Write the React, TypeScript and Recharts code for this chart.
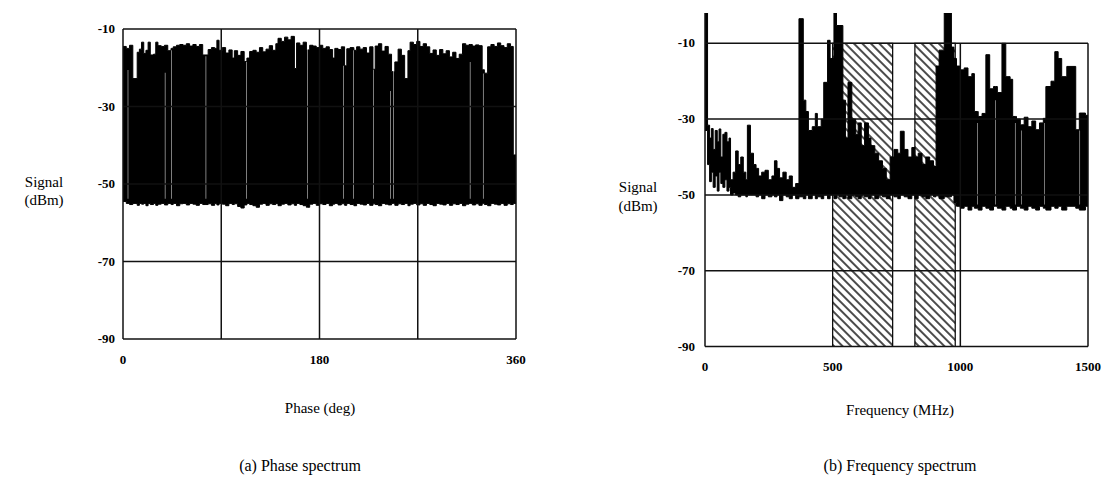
import React from 'react';
import { ComposedChart, Area, Bar, XAxis, YAxis, ReferenceLine, ReferenceArea } from 'recharts';

// (a) phase spectrum: step breakpoints (deg) with upper / lower envelope (dBm)
const phaseDeg = [0, 3, 6, 9, 13, 15, 17, 19, 21, 23, 25, 28, 30, 32, 35, 38, 41, 44, 46, 49, 52, 55, 58, 61, 64, 67, 70, 73, 78, 81, 84, 86, 88, 91, 94, 97, 100, 102, 105, 108, 111, 113.5, 116, 119, 122, 125, 128, 131, 134, 137, 140, 142, 145, 148, 151, 154, 157, 159, 162, 165, 168, 171, 174, 177, 180, 183, 186, 189, 192, 194, 197, 200, 203, 205, 208, 211.5, 214, 217, 220, 223, 226, 229, 231, 234, 237, 240, 243, 246, 249, 252, 255, 258, 261, 263, 266, 269, 272, 275, 278, 281, 284, 287, 290, 293, 296, 299, 302, 305, 308, 311, 314, 317, 320, 323, 326, 329, 331, 334, 337, 340, 343, 346, 349, 352, 355, 357.5, 360];
const phaseHi = [-14.5, -15, -14.2, -22.8, -16, -15.2, -13.4, -16.3, -15.5, -13.4, -16.7, -16.5, -13.4, -14.3, -14.5, -14.2, -15.6, -15, -14.6, -14.2, -14, -14.2, -13.8, -14.4, -14, -14.5, -14, -16.7, -15.3, -14.8, -15, -12.9, -15.5, -14.8, -16.2, -15.4, -17.5, -15.6, -16.8, -15.8, -18.4, -17.5, -15.8, -15.5, -16, -14.8, -15.9, -15.2, -14.3, -15.5, -13.8, -12.4, -13.2, -12.1, -12.8, -11.9, -20.2, -13.6, -14.2, -13.4, -15.4, -14.2, -14.4, -14.8, -14.2, -15, -14.6, -15.3, -17.5, -15, -15.3, -14.6, -19.5, -15.1, -14.8, -15.5, -14.6, -15.2, -14.8, -16.2, -14.6, -20.4, -14.4, -13.8, -15.7, -14.5, -16.5, -21, -18.5, -15.2, -16.8, -22.8, -15.6, -13.4, -14, -13.2, -14.5, -13.8, -14.6, -16.3, -15.4, -16.8, -15.3, -16.4, -15.6, -17.2, -16, -17.6, -16.5, -13.8, -14.2, -14, -14.4, -14.1, -14.3, -20.5, -21.4, -14.6, -14, -14.5, -13.6, -14.3, -14.8, -13.8, -14.5, -42.5, -42.5];
const phaseLo = [-54.5, -55, -55.3, -55, -55.5, -55, -55.2, -55, -55.6, -55, -55.3, -55, -55.5, -55.2, -55, -55.4, -55, -55.3, -55, -55.6, -55.1, -55, -55.4, -55, -55.2, -55.5, -55, -55.3, -55.1, -55.5, -55, -55.4, -55, -55.2, -55.6, -55, -55.3, -55.1, -55.8, -56.2, -55.4, -55, -55.3, -55.6, -56, -55.2, -55, -55.5, -55.1, -55.3, -55, -55.6, -55.2, -55, -55.4, -55.1, -55.5, -55, -55.3, -55.6, -56, -55.2, -55, -55.5, -55.1, -55.3, -55, -55.6, -55.2, -55, -55.4, -55.1, -55.5, -55, -55.3, -55.6, -55, -55.2, -55.4, -55, -55.5, -55.1, -55.3, -55.6, -55, -55.2, -55.4, -55, -55.5, -55.1, -55.3, -55, -55.6, -55.2, -55, -55.4, -55.1, -55.5, -55, -55.3, -55.6, -55, -55.2, -55.4, -55, -55.5, -55.1, -55.3, -55, -55.6, -55.2, -55, -55.4, -55.1, -55.5, -55, -55.3, -55.6, -55, -55.2, -55.4, -55, -55.5, -55.1, -55.3, -55, -55];
const phaseGapDeg = [4.6, 38.6, 44.6, 76, 113, 169, 202, 211, 229.5, 245, 248, 318, 330];
const phaseGapTop = [-20.6, -21.3, -15.5, -17, -18.5, -15, -19.5, -15.5, -20.5, -26, -20.5, -18.5, -21.5];
const phaseGapBottom = [-53.8, -53.8, -53.8, -53.8, -53.8, -53.8, -53.8, -53.8, -53.8, -53.8, -53.8, -53.8, -53.8];
const phaseTicks = [0, 180, 360];
const phaseGrid = [0, 90, 180, 270, 360];

// (b) frequency spectrum (MHz)
const freqMHz = [0, 10, 18, 25, 32, 40, 48, 55, 62, 70, 78, 86, 94, 100, 110, 120, 130, 140, 150, 160, 166, 178, 190, 200, 210, 222, 235, 248, 262, 272, 282, 292, 305, 318, 330, 342, 355, 368, 385, 395, 405, 420, 432, 440, 455, 465, 480, 490, 505, 515, 525, 540, 550, 560, 575, 590, 600, 612, 625, 640, 650, 665, 680, 695, 710, 725, 740, 755, 765, 780, 795, 810, 822, 835, 850, 865, 880, 895, 905, 917, 937, 965, 975, 985, 1000, 1015, 1030, 1045, 1055, 1070, 1085, 1100, 1115, 1130, 1145, 1163, 1178, 1195, 1205, 1220, 1235, 1250, 1265, 1280, 1295, 1310, 1325, 1335, 1355, 1370, 1383, 1397, 1417, 1452, 1466, 1490, 1500];
const freqHi = [-2, -31.6, -35, -32.5, -38, -33, -36, -32.6, -40, -34, -33.5, -36, -35, -46, -44, -38.4, -42, -40, -44, -46, -31.6, -39, -42, -43, -45, -44, -43.5, -46, -45, -41, -43, -45.5, -44, -46, -45, -48, -47, -3.5, -25, -28, -33, -32, -28.5, -32, -30, -20.3, -9.2, -14, -2, -5.3, -5.3, -25, -35, -20.3, -30, -34, -31, -37, -31, -35, -37, -39, -41, -43, -46, -40, -38, -39, -33.2, -38, -40, -37.5, -40, -39, -42, -40, -41, -42.5, -16, -11.8, -2, -11, -14, -16, -17, -16.5, -18.8, -18, -28, -29.3, -28.5, -13, -22, -21.4, -23, -10, -18.8, -19.5, -29.3, -30, -31.5, -29.5, -32, -30.5, -32.8, -31, -29.8, -21.4, -20, -12.2, -14, -18.8, -16.1, -32.8, -28.4, -29, -29];
const freqLo = [-33, -42, -46.5, -44, -48, -45, -49, -44, -47, -48, -46, -49, -48, -50, -49.5, -50, -50.5, -50, -50, -50.5, -50, -50, -50, -50.5, -50, -51, -50, -50.5, -50, -50.5, -50, -51.5, -50, -50.5, -51, -50, -51, -50.5, -51, -50, -51, -50, -51, -50.5, -51, -50, -51, -50, -51, -50, -50.5, -51, -50, -51, -50, -50.5, -51, -50, -50.5, -51, -50, -51, -50, -50.5, -51, -50, -50.5, -51, -50, -50.5, -51, -50, -51, -50, -50.5, -51, -50, -50.5, -50, -51, -50.5, -50, -52, -53, -53.5, -53, -54, -53, -53.5, -54, -53, -53.5, -54, -53, -53.5, -54, -53, -53.5, -54, -53, -53.5, -54, -53, -53.5, -54, -53, -53.5, -54, -53, -53.5, -53, -54, -53, -53.5, -54, -53, -53];
const freqGapMHz = [1067, 1138, 1215, 1240, 1330, 1468];
const freqGapTop = [-31, -25, -31, -33, -31, -33];
const freqGapBottom = [-52.5, -52.5, -52.5, -52.5, -52.5, -52.5];
const hatchBands = [[500, 735], [822, 980]];
const freqTicks = [0, 500, 1000, 1500];
const signalTicks = [-90, -70, -50, -30, -10];

function buildRows(xs: number[], his: number[], los: number[], gx: number[], gt: number[], gb: number[]) {
  const rows: any[] = xs.map((x, i) => ({ x, hi: his[i], lo: los[i], gap: null }));
  gx.forEach((g, j) => {
    let k = 0;
    while (k + 1 < xs.length && xs[k + 1] <= g) k++;
    rows.push({ x: g, hi: his[k], lo: los[k], gap: [gb[j], gt[j]] });
  });
  return rows.sort((a, b) => a.x - b.x);
}

const phaseRows = buildRows(phaseDeg, phaseHi, phaseLo, phaseGapDeg, phaseGapTop, phaseGapBottom);
const freqRows = buildRows(freqMHz, freqHi, freqLo, freqGapMHz, freqGapTop, freqGapBottom);

const grid = { stroke: '#111', strokeWidth: 1.5 };

// plain black serif tick labels
function XTick({ x, y, payload }: any) {
  return (
    <text x={x} y={y} dy={9} textAnchor="middle" fill="#000" fontSize={13} fontWeight={600} fontFamily="Liberation Serif">
      {payload.value}
    </text>
  );
}

function YTick({ x, y, payload }: any) {
  return (
    <text x={x} y={y} dy={4} textAnchor="end" fill="#000" fontSize={13} fontWeight={600} fontFamily="Liberation Serif">
      {payload.value}
    </text>
  );
}

function Txt({ x, y, size, children }: { x: number; y: number; size: number; children: React.ReactNode }) {
  return (
    <div style={{ position: 'absolute', left: x, top: y, transform: 'translate(-50%, -50%)', fontSize: size, whiteSpace: 'nowrap', lineHeight: 1 }}>
      {children}
    </div>
  );
}

function PhaseChart() {
  return (
    <ComposedChart width={560} height={380} data={phaseRows} margin={{ top: 29, right: 44, bottom: 11, left: 63 }}>
      <XAxis dataKey="x" type="number" domain={[0, 360]} ticks={phaseTicks} axisLine={false} tickLine={false} tick={<XTick />} tickMargin={10} height={30} />
      <YAxis type="number" domain={[-90, -10]} ticks={signalTicks} axisLine={false} tickLine={false} tick={<YTick />} width={60} allowDataOverflow />
      <Area dataKey={(d: any) => [d.lo, d.hi]} type="stepAfter" stroke="#000" strokeWidth={1} fill="#000" fillOpacity={1} isAnimationActive={false} dot={false} activeDot={false} />
      <Bar dataKey="gap" barSize={2.5} fill="#fff" isAnimationActive={false} />
      {signalTicks.map((v) => (
        <ReferenceLine key={'h' + v} y={v} {...grid} />
      ))}
      {phaseGrid.map((v) => (
        <ReferenceLine key={'v' + v} x={v} {...grid} />
      ))}
    </ComposedChart>
  );
}

function FreqChart() {
  return (
    <ComposedChart width={550} height={380} data={freqRows} margin={{ top: 13, right: 22, bottom: 3.5, left: 85 }}>
      <defs>
        <pattern id="hatch" width="6" height="6" patternUnits="userSpaceOnUse" patternTransform="rotate(-45)">
          <line x1="3" y1="0" x2="3" y2="6" stroke="#000" strokeWidth="1.4" />
        </pattern>
      </defs>
      <XAxis dataKey="x" type="number" domain={[0, 1500]} ticks={freqTicks} axisLine={false} tickLine={false} tick={<XTick />} tickMargin={9} height={30} />
      <YAxis type="number" domain={[-90, -2]} ticks={signalTicks} axisLine={false} tickLine={false} tick={<YTick />} tickMargin={4} width={60} allowDataOverflow />
      {hatchBands.map(([a, b]) => (
        <ReferenceArea key={a} x1={a} x2={b} y1={-90} y2={-10} fill="url(#hatch)" fillOpacity={1} stroke="#000" strokeWidth={1.2} />
      ))}
      <Area dataKey={(d: any) => [d.lo, d.hi]} type="stepAfter" stroke="#000" strokeWidth={1} fill="#000" fillOpacity={1} isAnimationActive={false} dot={false} activeDot={false} />
      <Bar dataKey="gap" barSize={2.5} fill="#fff" isAnimationActive={false} />
      {signalTicks.map((v) => (
        <ReferenceLine key={'h' + v} y={v} {...grid} />
      ))}
      <ReferenceLine x={0} {...grid} />
      <ReferenceLine segment={[{ x: 1000, y: -10 }, { x: 1000, y: -90 }]} {...grid} />
      <ReferenceLine segment={[{ x: 1500, y: -10 }, { x: 1500, y: -90 }]} {...grid} />
    </ComposedChart>
  );
}

export default function App() {
  return (
    <div style={{ position: 'fixed', left: 0, top: 0, width: 1110, height: 488, background: '#fff', fontFamily: 'Liberation Serif', color: '#000', overflow: 'hidden' }}>
      <div style={{ position: 'absolute', left: 0, top: 0 }}>
        <PhaseChart />
      </div>
      <div style={{ position: 'absolute', left: 560, top: 0 }}>
        <FreqChart />
      </div>
      <Txt x={44} y={182} size={15}>Signal</Txt>
      <Txt x={44} y={200} size={15}>(dBm)</Txt>
      <Txt x={638} y={187} size={15}>Signal</Txt>
      <Txt x={638} y={206} size={15}>(dBm)</Txt>
      <Txt x={320} y={408} size={15}>Phase (deg)</Txt>
      <Txt x={900} y={410} size={15}>Frequency (MHz)</Txt>
      <Txt x={300} y={466} size={16}>(a) Phase spectrum</Txt>
      <Txt x={900} y={466} size={16}>(b) Frequency spectrum</Txt>
    </div>
  );
}
